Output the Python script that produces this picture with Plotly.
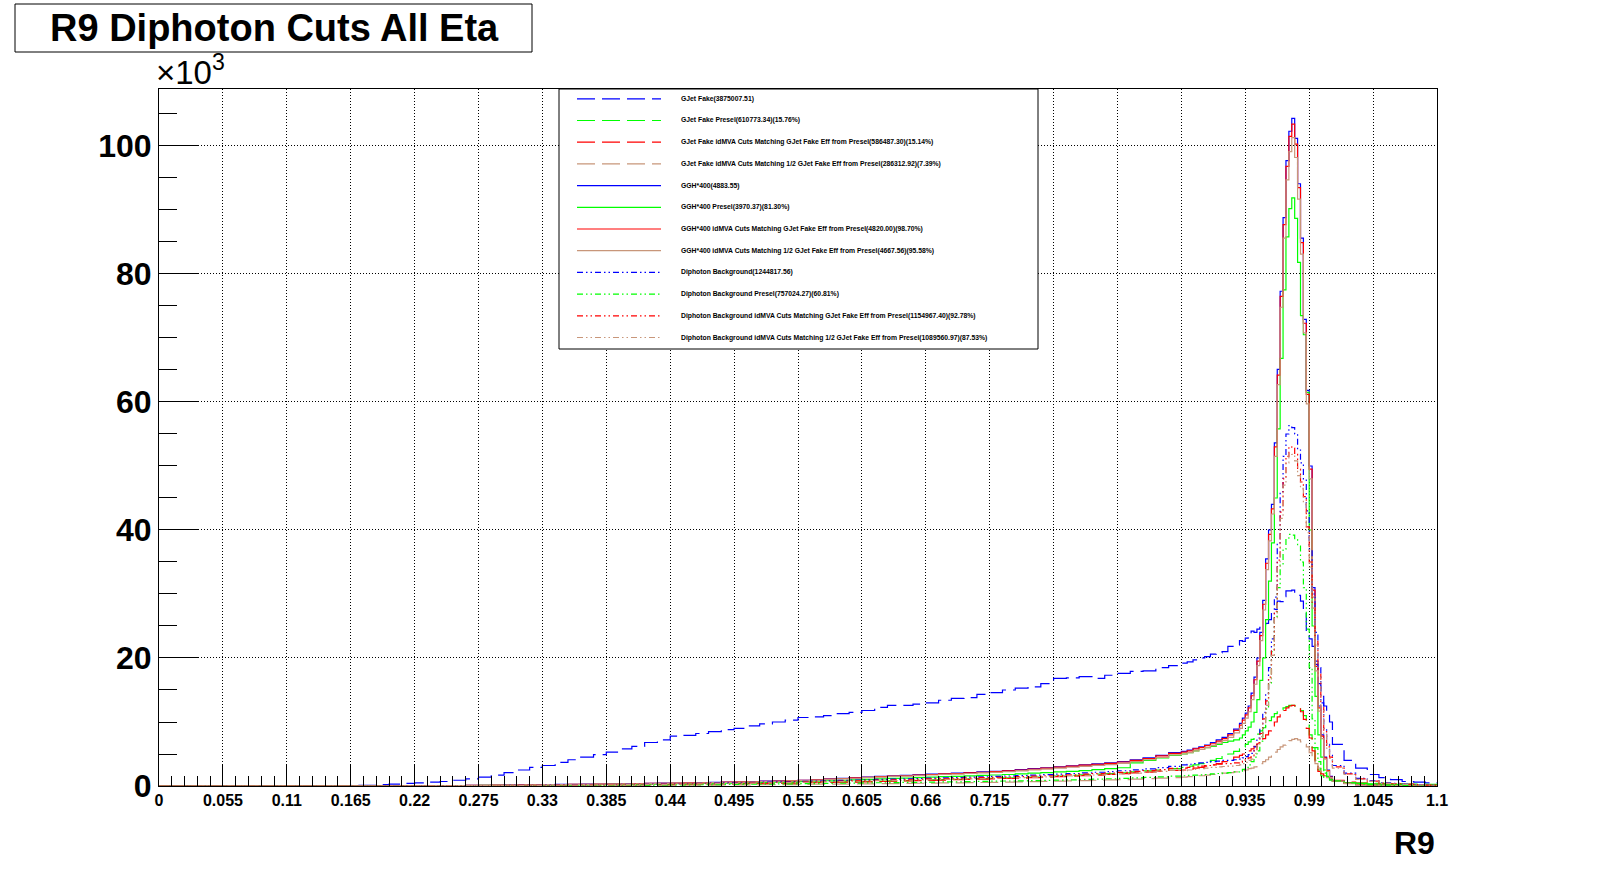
import numpy as np
import plotly.graph_objects as go

# R9 histograms, counts in thousands (axis shows x10^3)
# left bin edges: 0.011 wide up to 0.88, finer around the peak, coarser tail
EDGES = np.round(np.concatenate([
    np.arange(80) * 0.011,
    0.88 + np.arange(10) * 0.005,
    0.93 + np.arange(32) * 0.0025,
    1.01 + np.arange(9) * 0.01,
    [1.1],
]), 5)

GJET_FAKE = [
    0, 0, 0, 0, 0, 0, 0, 0, 0, 0, 0, 0, 0, 0, 0,
    0.1, 0.1, 0.2, 0.3, 0.4, 0.5, 0.6, 0.7, 0.9, 1.1,
    1.4, 1.7, 2.1, 2.5, 2.9, 3.2, 3.7, 4.1, 4.5, 4.9,
    5.3, 5.8, 6.2, 6.8, 7.2, 7.8, 7.9, 8.2, 8.5, 8.8,
    9.0, 9.4, 9.7, 10.0, 10.3, 10.7, 10.8, 11.0, 11.3, 11.5,
    11.8, 12.3, 12.6, 12.6, 12.8, 13.0, 13.4, 13.7, 13.8, 14.3,
    14.6, 15.0, 15.3, 15.5, 16.0, 16.8, 16.9, 17.1, 16.8, 17.3,
    17.6, 17.9, 18.0, 18.5, 18.8,
    19.2, 19.4, 19.7, 20.0, 20.2, 20.6, 20.8, 21.0, 21.8, 22.0,
    22.7, 22.6, 23.1, 23.3, 24.2, 24.0, 24.5, 24.8, 24.9, 25.4, 26.0, 27.5, 27.6, 28.9, 28.8, 29.6,
    30.5, 30.5, 30.6, 30.0, 29.8, 28.9, 27.6, 24.3, 23.0, 21.8, 19.5, 16.0, 14.0, 12.5, 11.5, 10.0,
    6.5, 4.0, 2.8, 1.8, 1.3, 1.0, 0.7, 0.6, 0.5,
]
GJET_PRESEL = [
    0, 0, 0, 0, 0, 0, 0, 0, 0, 0, 0, 0, 0, 0, 0, 0, 0, 0, 0, 0, 0, 0, 0, 0, 0,
    0.05, 0.06, 0.07, 0.08, 0.09, 0.1, 0.11, 0.12, 0.13, 0.14, 0.15, 0.17, 0.19, 0.21, 0.23,
    0.25, 0.27, 0.29, 0.31, 0.33, 0.36, 0.39, 0.42, 0.45, 0.48, 0.51, 0.55, 0.59, 0.63, 0.67,
    0.71, 0.75, 0.8, 0.85, 0.9, 0.95, 1.0, 1.05, 1.1, 1.15, 1.2, 1.26, 1.33, 1.4, 1.48,
    1.56, 1.65, 1.74, 1.84, 1.95, 2.07, 2.2, 2.35, 2.5, 2.7,
    2.9, 3.1, 3.3, 3.5, 3.7, 4.0, 4.3, 4.6, 5.0, 5.4,
    5.8, 6.1, 6.5, 6.9, 7.3, 7.7, 8.1, 8.6, 9.1, 9.6, 10.2, 10.8, 11.3, 11.6, 11.9, 12.2,
    12.4, 12.6, 12.6, 12.5, 12.2, 11.8, 11.0, 9.8, 8.0, 6.0, 4.0, 2.5, 1.6, 1.2, 1.0, 0.9,
    0.7, 0.55, 0.45, 0.4, 0.4, 0.35, 0.3, 0.3, 0.25,
]
GJET_IDMVA = [
    0, 0, 0, 0, 0, 0, 0, 0, 0, 0, 0, 0, 0, 0, 0, 0, 0, 0, 0, 0, 0, 0, 0, 0, 0,
    0.05, 0.06, 0.07, 0.07, 0.08, 0.09, 0.1, 0.11, 0.12, 0.13, 0.14, 0.16, 0.18, 0.2, 0.21,
    0.23, 0.25, 0.27, 0.29, 0.31, 0.33, 0.36, 0.39, 0.42, 0.45, 0.47, 0.51, 0.55, 0.59, 0.62,
    0.66, 0.7, 0.74, 0.79, 0.84, 0.88, 0.93, 0.98, 1.02, 1.07, 1.12, 1.17, 1.24, 1.3, 1.38,
    1.45, 1.53, 1.62, 1.71, 1.81, 1.92, 2.05, 2.18, 2.32, 2.45,
    2.5, 2.6, 2.8, 2.9, 3.1, 3.3, 3.5, 3.8, 4.1, 4.5,
    4.8, 5.0, 5.2, 5.5, 5.8, 6.2, 6.6, 7.0, 7.4, 8.0, 8.6, 9.4, 10.0, 10.8, 11.4, 11.8,
    12.2, 12.5, 12.6, 12.5, 12.2, 11.6, 10.4, 9.0, 7.5, 5.5, 3.5, 2.3, 1.9, 1.6, 1.4, 1.2,
    0.9, 0.6, 0.45, 0.35, 0.3, 0.25, 0.2, 0.15, 0.12,
]
GJET_HALF = [
    0, 0, 0, 0, 0, 0, 0, 0, 0, 0, 0, 0, 0, 0, 0, 0, 0, 0, 0, 0, 0, 0, 0, 0, 0,
    0.02, 0.03, 0.03, 0.04, 0.04, 0.05, 0.05, 0.06, 0.06, 0.07, 0.07, 0.08, 0.09, 0.1, 0.11,
    0.12, 0.13, 0.14, 0.15, 0.16, 0.17, 0.19, 0.2, 0.22, 0.23, 0.25, 0.27, 0.29, 0.3, 0.32,
    0.34, 0.36, 0.38, 0.41, 0.43, 0.46, 0.48, 0.5, 0.53, 0.55, 0.58, 0.61, 0.64, 0.68, 0.72,
    0.76, 0.8, 0.85, 0.9, 0.95, 1.0, 1.07, 1.15, 1.23, 1.32,
    1.4, 1.45, 1.5, 1.6, 1.7, 1.8, 1.9, 2.0, 2.1, 2.2,
    2.3, 2.4, 2.5, 2.7, 2.8, 3.0, 3.3, 3.5, 3.8, 4.1, 4.5, 4.9, 5.3, 5.7, 6.1, 6.4,
    6.8, 7.1, 7.3, 7.4, 7.2, 6.9, 6.5, 6.1, 5.2, 4.4, 3.5, 2.8, 2.2, 1.6, 1.3, 1.1,
    0.8, 0.55, 0.4, 0.3, 0.25, 0.2, 0.15, 0.12, 0.1,
]
GGH = [
    0, 0, 0, 0, 0, 0, 0, 0, 0, 0, 0, 0, 0, 0, 0, 0, 0, 0,
    0.02, 0.03, 0.04, 0.05, 0.06, 0.08, 0.1,
    0.12, 0.14, 0.16, 0.18, 0.2, 0.22, 0.24, 0.26, 0.28, 0.3, 0.32, 0.35, 0.38, 0.41, 0.44,
    0.47, 0.5, 0.53, 0.56, 0.6, 0.65, 0.7, 0.75, 0.8, 0.85, 0.9, 1.0, 1.1, 1.2, 1.3,
    1.4, 1.5, 1.6, 1.65, 1.75, 1.85, 1.95, 2.0, 2.1, 2.2, 2.3, 2.4, 2.55, 2.7, 2.85,
    3.0, 3.15, 3.3, 3.45, 3.6, 3.8, 4.1, 4.4, 4.8, 5.2,
    5.4, 5.6, 5.9, 6.1, 6.4, 6.8, 7.2, 7.6, 8.2, 8.9,
    9.8, 10.6, 11.4, 12.5, 14.5, 17.0, 20.0, 24.0, 29.0, 35.5, 40.0, 44.0, 53.6, 65.1, 77.3, 88.8,
    97.7, 102.3, 104.3, 101.2, 94.1, 85.6, 72.9, 61.8, 50.0, 31.0, 19.0, 12.5, 8.0, 4.5, 2.5, 1.5,
    0.8, 0.4, 0.2, 0.15, 0.1, 0.05, 0.03, 0.02, 0.01,
]
GGH_PRESEL = [
    0, 0, 0, 0, 0, 0, 0, 0, 0, 0, 0, 0, 0, 0, 0, 0, 0, 0,
    0.01, 0.02, 0.03, 0.04, 0.05, 0.06, 0.07,
    0.09, 0.1, 0.12, 0.13, 0.15, 0.16, 0.18, 0.19, 0.21, 0.22, 0.24, 0.26, 0.28, 0.3, 0.33,
    0.35, 0.37, 0.4, 0.42, 0.45, 0.49, 0.52, 0.56, 0.6, 0.64, 0.68, 0.75, 0.82, 0.9, 0.97,
    1.05, 1.12, 1.2, 1.24, 1.31, 1.39, 1.46, 1.5, 1.58, 1.65, 1.72, 1.8, 1.9, 2.0, 2.1,
    2.2, 2.3, 2.4, 2.55, 2.7, 2.85, 3.6, 4.0, 4.4, 4.8,
    5.0, 5.2, 5.5, 5.7, 6.0, 6.2, 6.5, 6.8, 7.0, 7.2,
    7.5, 8.0, 8.6, 9.2, 10.0, 11.5, 13.5, 16.5, 20.0, 26.0, 32.0, 38.0, 45.0, 55.8, 66.8, 77.5,
    85.8, 90.2, 91.9, 88.7, 81.8, 73.5, 70.5, 61.5, 40.0, 25.0, 14.0, 8.0, 4.5, 2.5, 1.5, 1.0,
    0.7, 0.5, 0.4, 0.35, 0.3, 0.25, 0.2, 0.15, 0.1,
]
GGH_IDMVA = [
    0, 0, 0, 0, 0, 0, 0, 0, 0, 0, 0, 0, 0, 0, 0, 0, 0, 0,
    0.02, 0.03, 0.04, 0.05, 0.06, 0.08, 0.1,
    0.12, 0.13, 0.15, 0.17, 0.19, 0.21, 0.23, 0.25, 0.27, 0.29, 0.31, 0.34, 0.37, 0.4, 0.43,
    0.46, 0.49, 0.52, 0.55, 0.59, 0.63, 0.68, 0.73, 0.78, 0.83, 0.88, 0.97, 1.07, 1.17, 1.26,
    1.36, 1.46, 1.55, 1.6, 1.7, 1.8, 1.9, 1.95, 2.05, 2.15, 2.25, 2.35, 2.5, 2.65, 2.8,
    2.95, 3.1, 3.25, 3.4, 3.55, 3.75, 4.0, 4.3, 4.7, 5.1,
    5.3, 5.5, 5.8, 6.0, 6.3, 6.6, 7.0, 7.4, 8.0, 8.7,
    9.5, 10.3, 11.1, 12.2, 14.1, 16.6, 19.5, 23.5, 28.4, 34.8, 39.3, 43.3, 53.0, 64.2, 76.5, 87.7,
    96.8, 101.5, 103.4, 100.3, 93.5, 84.9, 72.3, 61.2, 49.5, 30.6, 18.7, 12.2, 7.8, 4.4, 2.4, 1.4,
    0.8, 0.4, 0.2, 0.15, 0.1, 0.05, 0.03, 0.02, 0.01,
]
GGH_HALF = [
    0, 0, 0, 0, 0, 0, 0, 0, 0, 0, 0, 0, 0, 0, 0, 0, 0, 0,
    0.02, 0.03, 0.04, 0.05, 0.06, 0.07, 0.09,
    0.11, 0.13, 0.15, 0.17, 0.18, 0.2, 0.22, 0.24, 0.26, 0.28, 0.3, 0.33, 0.35, 0.38, 0.41,
    0.44, 0.47, 0.49, 0.52, 0.56, 0.6, 0.65, 0.7, 0.74, 0.79, 0.84, 0.93, 1.02, 1.12, 1.21,
    1.3, 1.4, 1.49, 1.53, 1.63, 1.72, 1.81, 1.86, 1.95, 2.05, 2.14, 2.23, 2.37, 2.51, 2.65,
    2.8, 2.93, 3.07, 3.2, 3.35, 3.53, 3.8, 4.1, 4.45, 4.85,
    5.0, 5.2, 5.5, 5.7, 6.0, 6.3, 6.7, 7.1, 7.6, 8.3,
    9.0, 9.8, 10.6, 11.6, 13.5, 15.9, 18.8, 22.7, 27.5, 33.8, 38.3, 42.5, 51.5, 62.7, 74.8, 85.6,
    94.7, 99.1, 101.3, 98.2, 91.7, 83.1, 70.8, 59.7, 48.0, 29.5, 18.0, 11.7, 7.4, 4.2, 2.3, 1.3,
    0.75, 0.38, 0.19, 0.14, 0.09, 0.05, 0.03, 0.02, 0.01,
]
DIPHO = [
    0, 0, 0, 0, 0, 0, 0, 0, 0, 0, 0, 0, 0, 0, 0, 0, 0, 0, 0, 0,
    0.02, 0.03, 0.04, 0.05, 0.06,
    0.07, 0.08, 0.09, 0.1, 0.11, 0.13, 0.15, 0.17, 0.19, 0.21, 0.23, 0.25, 0.27, 0.3, 0.33,
    0.36, 0.39, 0.42, 0.45, 0.48, 0.52, 0.56, 0.6, 0.64, 0.68, 0.72, 0.77, 0.82, 0.87, 0.92,
    0.97, 1.02, 1.07, 1.12, 1.17, 1.22, 1.27, 1.32, 1.38, 1.44, 1.5, 1.56, 1.63, 1.7, 1.78,
    1.86, 1.95, 2.05, 2.15, 2.26, 2.38, 2.52, 2.68, 2.86, 3.06,
    3.3, 3.4, 3.5, 3.6, 3.7, 3.8, 3.9, 4.0, 4.0, 4.1,
    4.2, 4.4, 4.6, 4.9, 5.1, 6.1, 7.5, 9.0, 11.5, 14.5, 18.5, 23.0, 29.5, 38.0, 46.0, 51.5,
    55.0, 56.3, 56.0, 55.0, 52.5, 50.5, 48.0, 43.0, 37.0, 30.0, 24.0, 18.5, 13.0, 9.0, 6.5, 4.8,
    3.2, 2.0, 1.2, 0.8, 0.5, 0.4, 0.3, 0.2, 0.15,
]
DIPHO_PRESEL = [
    0, 0, 0, 0, 0, 0, 0, 0, 0, 0, 0, 0, 0, 0, 0, 0, 0, 0, 0, 0,
    0.01, 0.01, 0.02, 0.02, 0.03,
    0.03, 0.04, 0.04, 0.05, 0.05, 0.06, 0.07, 0.08, 0.09, 0.1, 0.11, 0.12, 0.13, 0.15, 0.16,
    0.18, 0.19, 0.21, 0.22, 0.24, 0.26, 0.28, 0.3, 0.32, 0.34, 0.36, 0.38, 0.41, 0.43, 0.46,
    0.48, 0.51, 0.53, 0.56, 0.58, 0.61, 0.63, 0.66, 0.69, 0.72, 0.75, 0.78, 0.81, 0.85, 0.89,
    0.93, 0.97, 1.02, 1.07, 1.13, 1.19, 1.26, 1.34, 1.43, 1.53,
    1.6, 1.65, 1.7, 1.75, 1.8, 1.9, 1.95, 2.0, 2.1, 2.2,
    2.3, 2.6, 2.9, 3.3, 3.8, 4.5, 5.5, 7.0, 9.0, 12.0, 16.0, 21.0, 26.5, 31.0, 34.5, 37.0,
    38.5, 39.3, 39.2, 38.5, 37.5, 35.0, 31.0, 24.5, 18.5, 10.5, 6.0, 3.8, 2.6, 2.0, 1.5, 1.1,
    0.8, 0.5, 0.3, 0.2, 0.15, 0.1, 0.08, 0.05, 0.04,
]
DIPHO_IDMVA = [
    0, 0, 0, 0, 0, 0, 0, 0, 0, 0, 0, 0, 0, 0, 0, 0, 0, 0, 0, 0,
    0.02, 0.03, 0.04, 0.04, 0.05,
    0.06, 0.07, 0.08, 0.09, 0.1, 0.12, 0.13, 0.15, 0.17, 0.19, 0.21, 0.22, 0.24, 0.27, 0.3,
    0.32, 0.35, 0.38, 0.4, 0.43, 0.47, 0.5, 0.54, 0.58, 0.61, 0.65, 0.69, 0.74, 0.78, 0.83,
    0.87, 0.92, 0.96, 1.01, 1.05, 1.1, 1.14, 1.19, 1.24, 1.3, 1.35, 1.4, 1.47, 1.53, 1.6,
    1.67, 1.75, 1.84, 1.93, 2.03, 2.14, 2.27, 2.41, 2.57, 2.75,
    2.8, 2.9, 3.0, 3.1, 3.2, 3.3, 3.4, 3.5, 3.5, 3.6,
    3.7, 3.9, 4.1, 4.4, 4.6, 5.5, 6.8, 8.2, 10.5, 13.3, 17.0, 21.3, 27.3, 35.3, 42.8, 48.0,
    51.5, 53.0, 52.8, 51.8, 49.5, 47.5, 45.2, 40.5, 35.0, 28.5, 22.6, 17.5, 12.3, 8.5, 6.1, 4.5,
    3.0, 1.9, 1.1, 0.75, 0.45, 0.35, 0.28, 0.2, 0.14,
]
DIPHO_HALF = [
    0, 0, 0, 0, 0, 0, 0, 0, 0, 0, 0, 0, 0, 0, 0, 0, 0, 0, 0, 0,
    0.02, 0.02, 0.03, 0.04, 0.05,
    0.06, 0.06, 0.07, 0.08, 0.09, 0.1, 0.12, 0.14, 0.15, 0.17, 0.18, 0.2, 0.22, 0.24, 0.26,
    0.29, 0.31, 0.34, 0.36, 0.38, 0.42, 0.45, 0.48, 0.51, 0.54, 0.58, 0.62, 0.66, 0.7, 0.74,
    0.78, 0.82, 0.86, 0.9, 0.94, 0.98, 1.02, 1.06, 1.1, 1.15, 1.2, 1.25, 1.3, 1.36, 1.42,
    1.49, 1.56, 1.64, 1.72, 1.81, 1.9, 2.02, 2.14, 2.29, 2.45,
    2.4, 2.5, 2.6, 2.7, 2.8, 2.9, 3.0, 3.05, 3.1, 3.2,
    3.3, 3.5, 3.7, 4.0, 4.2, 5.1, 6.3, 7.7, 9.9, 12.6, 16.2, 20.4, 26.3, 34.3, 41.8, 47.0,
    50.5, 52.0, 51.8, 50.8, 48.5, 46.5, 44.2, 39.6, 34.2, 27.8, 22.0, 17.0, 11.9, 8.2, 5.9, 4.3,
    2.8, 1.8, 1.05, 0.7, 0.42, 0.32, 0.25, 0.18, 0.13,
]

LABELS = [
    "GJet Fake(3875007.51)",
    "GJet Fake Presel(610773.34)(15.76%)",
    "GJet Fake idMVA Cuts Matching GJet Fake Eff from Presel(586487.30)(15.14%)",
    "GJet Fake idMVA Cuts Matching 1/2 GJet Fake Eff from Presel(286312.92)(7.39%)",
    "GGH*400(4883.55)",
    "GGH*400 Presel(3970.37)(81.30%)",
    "GGH*400 idMVA Cuts Matching GJet Fake Eff from Presel(4820.00)(98.70%)",
    "GGH*400 idMVA Cuts Matching 1/2 GJet Fake Eff from Presel(4667.56)(95.58%)",
    "Diphoton Background(1244817.56)",
    "Diphoton Background Presel(757024.27)(60.81%)",
    "Diphoton Background idMVA Cuts Matching GJet Fake Eff from Presel(1154967.40)(92.78%)",
    "Diphoton Background idMVA Cuts Matching 1/2 GJet Fake Eff from Presel(1089560.97)(87.53%)",
]
SERIES = [GJET_FAKE, GJET_PRESEL, GJET_IDMVA, GJET_HALF,
          GGH, GGH_PRESEL, GGH_IDMVA, GGH_HALF,
          DIPHO, DIPHO_PRESEL, DIPHO_IDMVA, DIPHO_HALF]

X_TICKS = ["0", "0.055", "0.11", "0.165", "0.22", "0.275", "0.33", "0.385", "0.44", "0.495", "0.55",
           "0.605", "0.66", "0.715", "0.77", "0.825", "0.88", "0.935", "0.99", "1.045", "1.1"]
Y_TICKS = [0, 20, 40, 60, 80, 100]

BLUE, GREEN, RED, TAN = "#0000ff", "#00ff00", "#ff0000", "#c8967a"
COLORS = [BLUE, GREEN, RED, TAN] * 3
LONG_DASH = "18px,7px"
DOT_DASH = "6px,3px,1.5px,3px,1.5px,3px"
DASHES = [LONG_DASH] * 4 + ["solid"] * 4 + [DOT_DASH] * 4

FONT = "Liberation Sans"
W, H = 1598, 874
PLOT_L, PLOT_R, PLOT_T, PLOT_B = 159, 1437, 89, 786


def px(x):
    return (x - PLOT_L) / (PLOT_R - PLOT_L)


def py(y):
    return (PLOT_B - y) / (PLOT_B - PLOT_T)


fig = go.Figure()
for vals, color, dash in zip(SERIES, COLORS, DASHES):
    assert len(vals) == len(EDGES) - 1
    fig.add_trace(go.Scatter(
        x=EDGES, y=list(vals) + [vals[-1]], mode="lines",
        line=dict(shape="hv", color=color, width=1.2, dash=dash),
        showlegend=False, hoverinfo="skip",
    ))

shapes = []
annotations = []

# title box
shapes.append(dict(type="rect", xref="paper", yref="paper",
                   x0=px(15), x1=px(532), y0=py(52), y1=py(4),
                   line=dict(color="black", width=1), fillcolor="white"))
annotations.append(dict(xref="paper", yref="paper", x=px(274), y=py(28),
                        text="R9 Diphoton Cuts All Eta", showarrow=False,
                        xanchor="center", yanchor="middle",
                        font=dict(family=FONT, size=38, color="black", weight="bold")))

# legend box drawn by hand (ROOT TLegend look)
shapes.append(dict(type="rect", xref="paper", yref="paper",
                   x0=px(559), x1=px(1038), y0=py(349), y1=py(89),
                   line=dict(color="black", width=1), fillcolor="white"))
for i, (label, color, dash) in enumerate(zip(LABELS, COLORS, DASHES)):
    row = 98.8 + i * 21.7
    shapes.append(dict(type="line", xref="paper", yref="paper",
                       x0=px(577), x1=px(661), y0=py(row), y1=py(row),
                       line=dict(color=color, width=1.2, dash=dash)))
    annotations.append(dict(xref="paper", yref="paper", x=px(679), y=py(row),
                            text=label, showarrow=False, xanchor="left", yanchor="middle",
                            font=dict(family=FONT, size=6.8, color="black", weight="bold")))

# axis extras
annotations.append(dict(xref="paper", yref="paper", x=px(1437), y=py(843),
                        text="R9", showarrow=False, xanchor="right", yanchor="middle",
                        font=dict(family=FONT, size=32, color="black", weight="bold")))
annotations.append(dict(xref="paper", yref="paper", x=px(154), y=py(70),
                        text="×10<sup>3</sup>", showarrow=False, xanchor="left", yanchor="middle",
                        font=dict(family=FONT, size=33, color="black")))

fig.update_layout(
    width=W, height=H,
    margin=dict(l=PLOT_L, r=W - PLOT_R, t=PLOT_T, b=H - PLOT_B, pad=0),
    paper_bgcolor="white", plot_bgcolor="white",
    font=dict(family=FONT, color="black"),
    shapes=shapes, annotations=annotations,
)
fig.update_xaxes(
    range=[0, 1.1], automargin=False,
    tickmode="array", tickvals=[float(t) for t in X_TICKS], ticktext=X_TICKS,
    ticks="inside", ticklen=21, tickwidth=1, tickcolor="black",
    minor=dict(ticks="inside", ticklen=10, tickwidth=1, tickcolor="black",
               tick0=0, dtick=0.011, showgrid=False),
    showgrid=True, gridcolor="black", gridwidth=1, griddash="1px,2px",
    showline=True, linecolor="black", linewidth=1, mirror=True, zeroline=False,
    tickfont=dict(family=FONT, size=16, color="black", weight="bold"),
)
fig.update_yaxes(
    range=[0, 108.9], automargin=False,
    tickmode="array", tickvals=Y_TICKS, ticktext=[str(v) for v in Y_TICKS],
    ticks="inside", ticklen=39, tickwidth=1, tickcolor="black",
    minor=dict(ticks="inside", ticklen=18, tickwidth=1, tickcolor="black",
               tick0=0, dtick=5, showgrid=False),
    showgrid=True, gridcolor="black", gridwidth=1, griddash="1px,2px",
    showline=True, linecolor="black", linewidth=1, mirror=True, zeroline=False,
    tickfont=dict(family=FONT, size=32, color="black", weight="bold"),
)

fig.write_html("out.html", config={"displayModeBar": False},
               post_script="document.body.style.margin='0';")
